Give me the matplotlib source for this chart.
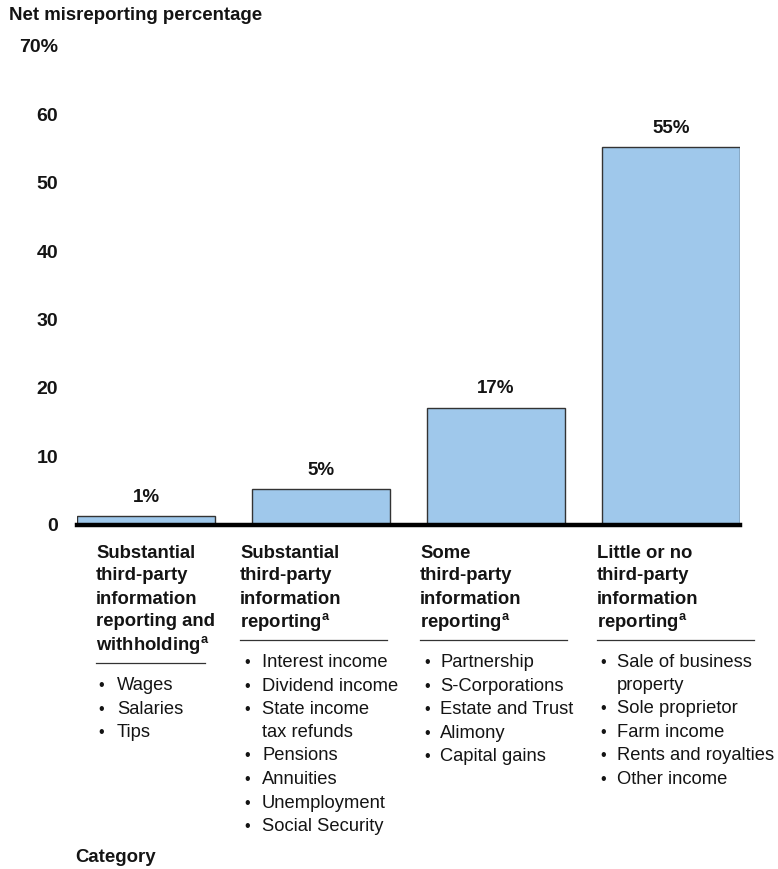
import matplotlib
matplotlib.use("Agg")
import matplotlib.pyplot as plt

plt.rcParams['font.family'] = ['Liberation Sans', 'DejaVu Sans']
plt.rcParams['mathtext.fontset'] = 'custom'
plt.rcParams['mathtext.rm'] = 'Liberation Sans'
plt.rcParams['mathtext.bf'] = 'Liberation Sans:bold'

# ---- data ----
categories = [
    ["Substantial", "third-party", "information", "reporting and", "withholding$^{\\mathbf{a}}$"],
    ["Substantial", "third-party", "information", "reporting$^{\\mathbf{a}}$"],
    ["Some", "third-party", "information", "reporting$^{\\mathbf{a}}$"],
    ["Little or no", "third-party", "information", "reporting$^{\\mathbf{a}}$"],
]
values = [1.2, 5.2, 17.1, 55.2]
value_labels = ["1%", "5%", "17%", "55%"]
items = [
    [["Wages"], ["Salaries"], ["Tips"]],
    [["Interest income"], ["Dividend income"], ["State income", "tax refunds"],
     ["Pensions"], ["Annuities"], ["Unemployment"], ["Social Security"]],
    [["Partnership"], ["S-Corporations"], ["Estate and Trust"], ["Alimony"], ["Capital gains"]],
    [["Sale of business", "property"], ["Sole proprietor"], ["Farm income"],
     ["Rents and royalties"], ["Other income"]],
]
yticks = [0, 10, 20, 30, 40, 50, 60, 70]
ytick_labels = ["0", "10", "20", "30", "40", "50", "60", "70%"]
y_title = "Net misreporting percentage"
x_title = "Category"

W, H = 778, 869
fig = plt.figure(figsize=(W / 100, H / 100), dpi=100)
TXT = "#141414"

def fx(px):
    return px / W

def fy(py):
    return 1 - py / H

ax = fig.add_axes([fx(77), fy(524.5), fx(740) - fx(77), (524.5 - 46) / H])
x = list(range(len(values)))
bars = ax.bar(x, values, width=0.79, color="#9fc8eb", edgecolor="#333333", linewidth=1.0, zorder=2)
ax.set_xlim(-0.395, len(values) - 1 + 0.395)
ax.set_ylim(0, 70)
ax.set_yticks(yticks)
ax.set_yticklabels(ytick_labels, fontsize=14, fontweight="bold", color=TXT)
ax.tick_params(axis="y", length=0, pad=13.5)
ax.set_xticks([])
for s in ["top", "right", "left"]:
    ax.spines[s].set_visible(False)
ax.spines["bottom"].set_linewidth(3.2)
ax.spines["bottom"].set_color("black")
ax.spines["bottom"].set_zorder(3)

for xi, v, lab in zip(x, values, value_labels):
    ax.annotate(lab, (xi, v), xytext=(0, 7.5), textcoords="offset points",
                ha="center", va="bottom", fontsize=13.5, fontweight="bold", color=TXT)

fig.text(fx(9), fy(16), y_title, ha="left", va="center", fontsize=13.4, fontweight="bold", color=TXT)
fig.text(fx(75), fy(858), x_title, ha="left", va="center", fontsize=13.4, fontweight="bold", color=TXT)

# category columns
col_head_x = [96, 240, 420, 597]
col_line = [(96, 205, 663), (240, 387, 640), (420, 567, 640), (597, 754, 640)]
bullet_x = [98, 244, 424, 600]
text_x = [117, 262, 440, 617]
head_y0 = 553
head_step = 23.0
item_step = 23.6

for i, head in enumerate(categories):
    for j, line in enumerate(head):
        fig.text(fx(col_head_x[i]), fy(head_y0 + j * head_step), line, ha="left", va="center",
                 fontsize=13.3, fontweight="bold", color=TXT)
    x0, x1, ly = col_line[i]
    fig.add_artist(plt.Line2D([fx(x0), fx(x1)], [fy(ly), fy(ly)], color="#333333", linewidth=0.9))
    yy = ly + 22.5
    for it in items[i]:
        fig.text(fx(bullet_x[i]), fy(yy), "•", ha="left", va="center", fontsize=11.5, color=TXT)
        for k, ln in enumerate(it):
            fig.text(fx(text_x[i]), fy(yy), ln, ha="left", va="center", fontsize=13.25, color=TXT)
            yy += item_step if k == len(it) - 1 else 22.5

fig.savefig("out.png", dpi=100)
